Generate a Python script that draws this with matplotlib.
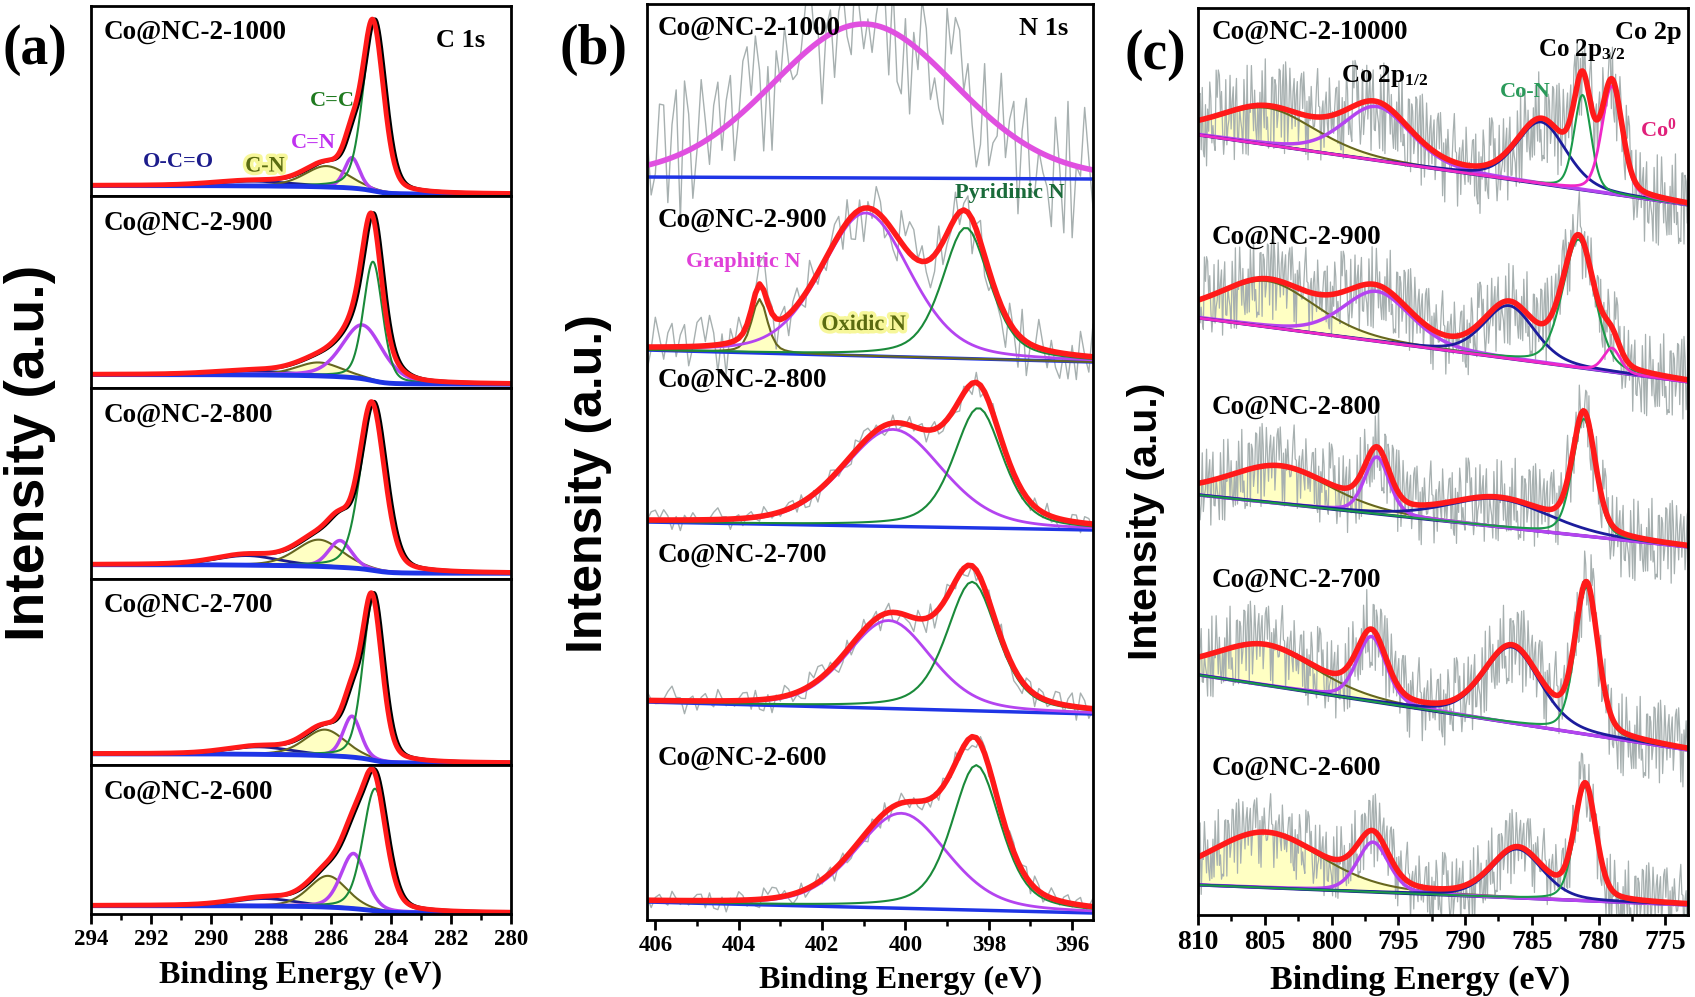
import numpy as np
import matplotlib
matplotlib.use('Agg')
import matplotlib.pyplot as plt
import matplotlib.patheffects as pe
from matplotlib.ticker import MultipleLocator

plt.rcParams['font.family'] = ['Liberation Serif', 'DejaVu Serif']
plt.rcParams['font.weight'] = 'bold'
plt.rcParams['mathtext.fontset'] = 'custom'
plt.rcParams['mathtext.rm'] = 'Liberation Serif:bold'
plt.rcParams['mathtext.bf'] = 'Liberation Serif:bold'
plt.rcParams['mathtext.it'] = 'Liberation Serif:bold'

# ---------------- data ----------------
samples = ['Co@NC-2-1000', 'Co@NC-2-900', 'Co@NC-2-800', 'Co@NC-2-700', 'Co@NC-2-600']
samples_c = ['Co@NC-2-10000', 'Co@NC-2-900', 'Co@NC-2-800', 'Co@NC-2-700', 'Co@NC-2-600']

# (a) C 1s  components: O-C=O, C-N, C=N, C=C  (intensity as fraction of sub-panel height)
a_centers = [[288.6, 286.15, 285.30, 284.57],
             [288.6, 286.40, 284.95, 284.60],
             [288.8, 286.40, 285.70, 284.60],
             [288.4, 286.20, 285.30, 284.60],
             [288.2, 286.10, 285.25, 284.53]]
a_heights = [[0.025, 0.11, 0.16, 0.88],
             [0.020, 0.07, 0.28, 0.62],
             [0.050, 0.14, 0.14, 0.86],
             [0.040, 0.14, 0.22, 0.86],
             [0.050, 0.21, 0.37, 0.82]]
a_fwhm = [[3.0, 1.7, 0.6, 0.85],
          [3.0, 1.8, 1.6, 0.75],
          [2.5, 1.8, 0.9, 1.00],
          [2.5, 1.6, 0.7, 0.80],
          [2.5, 1.5, 1.0, 0.95]]
a_bg_high = [0.055, 0.070, 0.075, 0.060, 0.056]
a_bg_low = [0.010, 0.020, 0.030, 0.010, 0.007]

# (b) N 1s  components: Oxidic N, Graphitic N, Pyridinic N  (a.u. in stacked scale)
b_centers = [[403.5, 401.00, 398.55],
             [403.5, 400.95, 398.55],
             [403.5, 400.30, 398.25],
             [403.5, 400.40, 398.40],
             [403.5, 400.10, 398.30]]
b_heights = [[0, 154, 0],
             [54, 143, 131],
             [0, 97, 120],
             [0, 88, 129],
             [0, 95, 145]]
b_fwhm = [[0.45, 5.2, 1.4],
          [0.45, 2.5, 1.35],
          [0.45, 2.8, 1.40],
          [0.45, 2.4, 1.45],
          [0.45, 2.6, 1.40]]
b_base_left = [743, 570, 398, 218, 18]
b_base_right = [741, 558, 390, 206, 7]
b_noise_amp = [75, 35, 12, 15, 12]

# (c) Co 2p components: satellite(2p1/2), Co 2p1/2, satellite(2p3/2), Co-N, Co0
c_centers = [[804.8, 796.6, 784.3, 781.2, 779.0],
             [804.8, 796.6, 786.7, 781.5, 779.0],
             [803.9, 796.6, 787.5, 781.1, 779.0],
             [805.0, 797.0, 786.5, 780.9, 779.0],
             [805.0, 796.9, 786.1, 781.0, 779.0]]
c_heights = [[37, 54, 62, 95, 108],
             [46, 50, 53, 128, 24],
             [37, 57, 28, 117, 0],
             [40, 65, 76, 147, 0],
             [55, 50, 49, 114, 0]]
c_fwhm = [[8.5, 6.0, 4.4, 1.5, 1.8],
          [8.5, 6.0, 4.5, 2.8, 1.5],
          [9.0, 2.2, 9.0, 2.0, 1.5],
          [9.0, 2.6, 5.0, 2.0, 1.5],
          [10.0, 2.8, 4.5, 1.9, 1.5]]
c_base_left = [780, 597, 420, 240, 30]
c_base_right = [710, 533, 368, 165, 10]
c_noise_amp = [50, 45, 45, 45, 40]

# hand-typed noise residuals (unitless), reused for the raw spectra
noise = [0.42, -0.61, 0.15, 0.88, -0.33, -0.92, 0.27, 0.64, -0.12, -0.55, 0.71, 0.05, -0.78, 0.36, 0.93, -0.21,
         -0.47, 0.58, -0.86, 0.19, 0.74, -0.39, 0.02, -0.67, 0.51, 0.83, -0.28, -0.95, 0.31, 0.12, -0.53, 0.69,
         -0.08, 0.45, -0.74, 0.97, -0.16, -0.41, 0.24, 0.62, -0.89, 0.07, 0.56, -0.35, -0.63, 0.81, -0.02, 0.38,
         -0.71, 0.29, 0.90, -0.48, -0.19, 0.66, -0.84, 0.11, 0.47, -0.58, 0.76, -0.25, -0.06, 0.53, -0.97, 0.34,
         0.18, -0.44, 0.86, -0.69, 0.03, 0.60, -0.31, -0.80, 0.22, 0.72, -0.14, 0.49, -0.57, 0.95, -0.37, -0.09,
         0.40, -0.76, 0.13, 0.68, -0.52, 0.26, -0.88, 0.79, -0.23, 0.09, -0.65, 0.54, 0.32, -0.99, 0.44, 0.17,
         -0.42, 0.85, -0.60, 0.00, 0.63, -0.27, -0.73, 0.35, 0.91, -0.45, 0.06, -0.82, 0.57, 0.20, -0.36, 0.77,
         -0.13, -0.59, 0.48, 0.14, -0.94, 0.67, 0.28, -0.50, 0.82, -0.18, -0.70, 0.39, 0.04, -0.85, 0.61, -0.30]
noise = np.array(noise)

# ---------------- helpers ----------------
W, H = 1695, 997
fig = plt.figure(figsize=(W / 100, H / 100), dpi=100)


def ax_at(x0, y0, x1, y1):
    return fig.add_axes([x0 / W, 1 - y1 / H, (x1 - x0) / W, (y1 - y0) / H])


def pv(x, c, h, f, eta=0.3):
    g = np.exp(-4 * np.log(2) * ((x - c) / f) ** 2)
    l = 1 / (1 + 4 * ((x - c) / f) ** 2)
    return h * (eta * l + (1 - eta) * g)


def noise_for(n, k):
    return noise[(np.arange(n) * 37 + k * 23) % len(noise)]


def style_axis(ax, lw=2.0):
    for s in ax.spines.values():
        s.set_linewidth(lw)
    ax.set_yticks([])


RED = '#ff1a1a'
BLUE = '#1f35e6'
GREEN = '#1a8a3a'
VIOLET = '#b444f0'
OLIVE = '#66661e'
YELLOW = '#ffff7a'
NAVY = '#1c1c8c'
GRAY = '#a7b0b0'
glow = [pe.withStroke(linewidth=5, foreground='#f7f79a')]

# ---------------- panel (a) ----------------
a_bounds = [6, 196, 388, 579, 765, 914]
xa = np.linspace(294, 280, 841)
label_y_a = [0.86, 0.86, 0.86, 0.86, 0.82]
for i in range(5):
    ax = ax_at(91, a_bounds[i], 511, a_bounds[i + 1])
    style_axis(ax)
    ax.set_xlim(294, 280)
    ax.set_ylim(0, 1)
    peaks = [pv(xa, c, h, f, 0.3) for c, h, f in zip(a_centers[i], a_heights[i], a_fwhm[i])]
    tot = sum(peaks)
    cum = np.cumsum(tot[::-1])[::-1]
    bg = a_bg_low[i] + (a_bg_high[i] - a_bg_low[i]) * cum / cum[0]
    env = bg + tot
    ax.fill_between(xa, bg, bg + peaks[1], color=YELLOW, alpha=0.45, lw=0)
    ax.plot(xa, bg + peaks[0], color=NAVY, lw=2)
    ax.plot(xa, bg + peaks[1], color=OLIVE, lw=1.5)
    ax.plot(xa, bg + peaks[2], color=VIOLET, lw=2.5)
    ax.plot(xa, bg + peaks[3], color=GREEN, lw=1.5)
    ax.plot(xa, bg, color=BLUE, lw=3.5)
    ax.plot(xa - 0.05, env, color='black', lw=2.5)
    ax.plot(xa + 0.04, env, color=RED, lw=3.5)
    ax.text(0.03, label_y_a[i], samples[i], transform=ax.transAxes, fontsize=19.5,
            ha='left', va='center')
    if i < 4:
        ax.tick_params(axis='x', which='both', bottom=False, labelbottom=False)
    else:
        ax.xaxis.set_major_locator(MultipleLocator(2))
        ax.xaxis.set_minor_locator(MultipleLocator(1))
        ax.tick_params(axis='x', which='major', direction='out', length=7, width=2,
                       labelsize=16.5, pad=4)
        ax.tick_params(axis='x', which='minor', direction='out', length=4, width=1.8)
    if i == 0:
        ax.text(0.88, 0.82, 'C 1s', transform=ax.transAxes, fontsize=19, ha='center', va='center')
        ax.text(285.95, 0.50, 'C=C', color='#1f7a1f', fontsize=16, ha='center', va='center')
        ax.text(286.6, 0.28, 'C=N', color='#c030f0', fontsize=16, ha='center', va='center')
        ax.text(288.2, 0.155, 'C-N', color='#5a6b10', fontsize=16, ha='center', va='center',
                path_effects=glow)
        ax.text(291.1, 0.18, 'O-C=O', color=NAVY, fontsize=16, ha='center', va='center')

fig.text(301 / W, 1 - 975 / H, 'Binding Energy (eV)', fontsize=23, ha='center', va='center')

# ---------------- panel (b) ----------------
axb = ax_at(647, 4, 1093, 920)
style_axis(axb)
xl_b, xr_b = 406.2, 395.5
axb.set_xlim(xl_b, xr_b)
axb.set_ylim(0, 916)
xb = np.arange(406.2, 395.45, -0.1)
b_cols = ['#66661e', '#b444f0', '#1a8a3a']
for i in range(5):
    bg = b_base_left[i] + (b_base_right[i] - b_base_left[i]) * (xl_b - xb) / (xl_b - xr_b)
    etas = [0.5, 0.3, 0.5]
    if i == 0:
        etas = [0.5, 0.1, 0.5]
    peaks = [pv(xb, c, h, f, e) for c, h, f, e in zip(b_centers[i], b_heights[i], b_fwhm[i], etas)]
    tot = sum(peaks)
    env = bg + tot
    raw = env + b_noise_amp[i] * noise_for(len(xb), i)
    axb.plot(xb, raw, color=GRAY, lw=1.0)
    axb.plot(xb, bg, color=BLUE, lw=2.5)
    if i == 0:
        axb.plot(xb, env, color='#e050e0', lw=4)
        continue
    if b_heights[i][0] > 0:
        axb.fill_between(xb, bg, bg + peaks[0], color=YELLOW, alpha=0.45, lw=0)
        axb.plot(xb, bg + peaks[0], color=b_cols[0], lw=1.5)
    axb.plot(xb, bg + peaks[1], color=b_cols[1], lw=2.0)
    axb.plot(xb, bg + peaks[2], color=b_cols[2], lw=1.5)
    axb.plot(xb, env, color=RED, lw=4)

label_y_b = [892, 700, 540, 365, 162]
for i in range(5):
    axb.text(405.95, label_y_b[i], samples[i], fontsize=19.5, ha='left', va='center')
axb.text(396.1, 892, 'N 1s', fontsize=19, ha='right', va='center')
axb.text(397.5, 727, 'Pyridinic N', color='#1a6b3a', fontsize=16, ha='center', va='center')
axb.text(403.9, 658, 'Graphitic N', color='#e040d8', fontsize=16, ha='center', va='center')
axb.text(401.0, 595, 'Oxidic N', color='#5a6b10', fontsize=16, ha='center', va='center',
         path_effects=glow)
axb.xaxis.set_major_locator(MultipleLocator(2))
axb.xaxis.set_minor_locator(MultipleLocator(1))
axb.tick_params(axis='x', which='major', direction='out', length=7, width=2, labelsize=16.5, pad=4)
axb.tick_params(axis='x', which='minor', direction='out', length=4, width=1.8)
fig.text(901 / W, 1 - 980 / H, 'Binding Energy (eV)', fontsize=23, ha='center', va='center')

# ---------------- panel (c) ----------------
axc = ax_at(1198, 8, 1688, 915)
style_axis(axc)
xl_c, xr_c = 810.0, 773.3
axc.set_xlim(xl_c, xr_c)
axc.set_ylim(0, 907)
xc = np.arange(810.0, 773.25, -0.08)
c_cols = ['#66661e', '#b444f0', '#1c1c9c', '#1a9a4a', '#f028c8']
c_lws = [1.5, 2.5, 2.0, 1.5, 2.0]
for i in range(5):
    bg = c_base_left[i] + (c_base_right[i] - c_base_left[i]) * (xl_c - xc) / (xl_c - xr_c)
    peaks = [pv(xc, c, h, f, 0.3) for c, h, f in zip(c_centers[i], c_heights[i], c_fwhm[i])]
    tot = sum(peaks)
    env = bg + tot
    raw = env + c_noise_amp[i] * noise_for(len(xc), i + 5)
    axc.plot(xc, raw, color=GRAY, lw=0.9)
    axc.fill_between(xc, bg, bg + peaks[0], color=YELLOW, alpha=0.45, lw=0)
    axc.plot(xc, bg, color=NAVY, lw=2.2)
    for k in range(5):
        if c_heights[i][k] > 0:
            axc.plot(xc, bg + peaks[k], color=c_cols[k], lw=c_lws[k])
    axc.plot(xc, env, color=RED, lw=4)

label_y_c = [883, 678, 508, 335, 147]
for i in range(5):
    axc.text(809.0, label_y_c[i], samples_c[i], fontsize=19.5, ha='left', va='center')
axc.text(773.8, 883, 'Co 2p', fontsize=19, ha='right', va='center')
axc.text(781.3, 865, 'Co 2p$_{3/2}$', fontsize=18, ha='center', va='center')
axc.text(796.0, 839, 'Co 2p$_{1/2}$', fontsize=18, ha='center', va='center')
axc.text(785.5, 823, 'Co-N', color='#2a9a5a', fontsize=16, ha='center', va='center')
axc.text(775.5, 785, 'Co$^0$', color='#e0207a', fontsize=16, ha='center', va='center')
axc.xaxis.set_major_locator(MultipleLocator(5))
axc.xaxis.set_minor_locator(MultipleLocator(2.5))
axc.tick_params(axis='x', which='major', direction='out', length=7, width=2, labelsize=20, pad=4)
axc.tick_params(axis='x', which='minor', direction='out', length=4, width=1.8)
fig.text(1420 / W, 1 - 980 / H, 'Binding Energy (eV)', fontsize=24.5, ha='center', va='center')

# ---------------- y labels / panel tags ----------------
sans = ['Liberation Sans', 'DejaVu Sans']
fig.text(30 / W, 1 - 453 / H, 'Intensity (a.u.)', rotation=90, fontsize=40, family=sans,
         weight='bold', ha='center', va='center')
fig.text(589 / W, 1 - 484 / H, 'Intensity (a.u.)', rotation=90, fontsize=36, family=sans,
         weight='bold', ha='center', va='center')
fig.text(1146 / W, 1 - 521 / H, 'Intensity (a.u.)', rotation=90, fontsize=29.5, family=sans,
         weight='bold', ha='center', va='center')
fig.text(35 / W, 1 - 50 / H, '(a)', fontsize=40, ha='center', va='center')
fig.text(594 / W, 1 - 50 / H, '(b)', fontsize=40, ha='center', va='center')
fig.text(1155 / W, 1 - 55 / H, '(c)', fontsize=40, ha='center', va='center')

fig.savefig('out.png', dpi=100, facecolor='white')
